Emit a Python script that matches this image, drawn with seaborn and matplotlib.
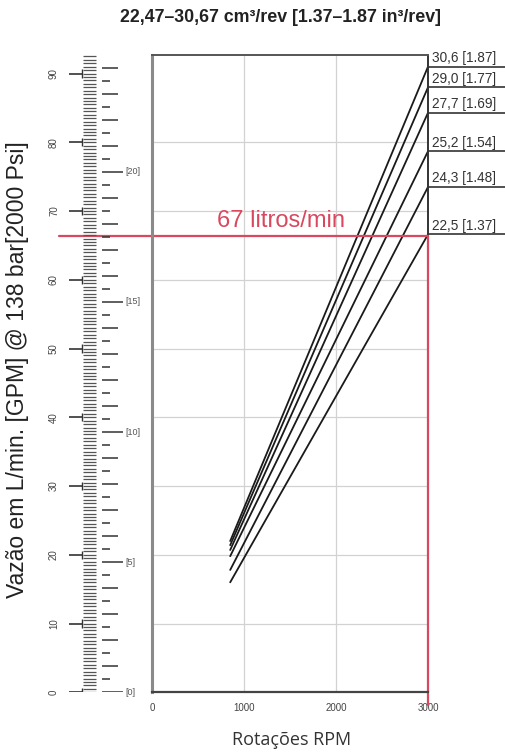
import matplotlib
matplotlib.use("Agg")
import matplotlib.pyplot as plt
import seaborn as sns
import numpy as np
import pandas as pd

# ==========================================
# dados
# ==========================================
deslocamentos = ["30,6 [1.87]", "29,0 [1.77]", "27,7 [1.69]",
                 "25,2 [1.54]", "24,3 [1.48]", "22,5 [1.37]"]
rpm_inicio = 850
rpm_fim = 3000
vazao_inicio = [22.0, 21.4, 20.7, 19.8, 17.8, 16.0]   # L/min em rpm_inicio
vazao_fim = [91.0, 88.0, 84.3, 78.7, 73.5, 66.6]      # L/min em 3000 rpm

vazao_ref = 66.4
texto_ref = "67 litros/min"

lpm_labels = [0, 10, 20, 30, 40, 50, 60, 70, 80, 90]
gpm_labels = [0, 5, 10, 15, 20]
x_ticks = [0, 1000, 2000, 3000]
grid_y = [10, 20, 30, 40, 50, 60, 70, 80]

titulo = "22,47–30,67 cm³/rev [1.37–1.87 in³/rev]"
ylabel = "Vazão em L/min. [GPM] @ 138 bar[2000 Psi]"
xlabel = "Rotações RPM"

LPM_POR_GPM = 3.785
Y_MAX = 92.7

sns.set_theme(style="white")
plt.rcParams['font.family'] = ['Liberation Sans', 'DejaVu Sans']

W, H = 506, 754
fig = plt.figure(figsize=(W / 100, H / 100), dpi=100)


def px_box(x0, y0, x1, y1):
    return [x0 / W, 1 - y1 / H, (x1 - x0) / W, (y1 - y0) / H]


def px2rpm(px):
    # converte pixel horizontal da figura em rpm do eixo principal
    return (px - 152) / (428 - 152) * 3000


ax = fig.add_axes(px_box(152, 55, 428, 692.3))
rax = fig.add_axes(px_box(40, 55, 152, 692.3))

# --- linhas de vazão ---
rows = []
for d, v0, v1 in zip(deslocamentos, vazao_inicio, vazao_fim):
    rows.append({"rpm": rpm_inicio, "vazao": v0, "desl": d})
    rows.append({"rpm": rpm_fim, "vazao": v1, "desl": d})
df = pd.DataFrame(rows)

sns.lineplot(data=df, x="rpm", y="vazao", units="desl", estimator=None,
             color="#1a1a1a", lw=1.3, ax=ax, legend=False)

ax.set_xlim(0, 3000)
ax.set_ylim(0, Y_MAX)
ax.set_xticks(x_ticks)
ax.set_xticklabels([str(t) for t in x_ticks], fontsize=7, color="#444")
ax.set_yticks(grid_y)
ax.tick_params(axis="y", length=0, labelleft=False)
ax.tick_params(axis="x", length=4, width=1, direction="inout", color="#555", pad=6)
ax.grid(True, color="#d2d2d2", lw=0.9)
ax.set_axisbelow(True)
ax.set_xlabel("")
ax.set_ylabel("")

ax.spines["left"].set_color("#8a8a8a")
ax.spines["left"].set_linewidth(2.2)
ax.spines["top"].set_color("#555")
ax.spines["top"].set_linewidth(1.4)
ax.spines["bottom"].set_color("#444")
ax.spines["bottom"].set_linewidth(1.6)
ax.spines["right"].set_visible(False)

# --- colchete da direita com rótulos de deslocamento ---
ax.plot([3000, 3000], [vazao_ref, Y_MAX], color="#333", lw=1.4, clip_on=False)
for lab, v in zip(deslocamentos, vazao_fim):
    ax.plot([3000, px2rpm(505)], [v, v], color="#333", lw=1.2, clip_on=False)
    ax.text(px2rpm(432), v + 0.25, lab, fontsize=9.8, color="#333",
            ha="left", va="bottom", clip_on=False)

# --- referência vermelha ---
vermelho = "#d8485f"
ax.plot([px2rpm(59), 3000], [vazao_ref, vazao_ref], color=vermelho, lw=1.6, clip_on=False)
ax.plot([3000, 3000], [-1.8, vazao_ref], color=vermelho, lw=1.6, clip_on=False)
ax.text(px2rpm(345), vazao_ref + 0.6, texto_ref, color=vermelho, fontsize=17,
        ha="right", va="bottom")

# --- régua da esquerda (L/min e GPM) ---
rax.set_xlim(40, 152)
rax.set_ylim(0, Y_MAX)
rax.axis("off")

rax.hlines(lpm_labels, 69, 82, color="#333", lw=1.2)
rax.vlines([82] * len(lpm_labels), np.array(lpm_labels) - 0.6,
           np.array(lpm_labels) + 0.6, color="#333", lw=1.0)
rax.hlines(np.arange(0, Y_MAX, 0.5), 83, 96, color="#555", lw=0.9)
for v in lpm_labels:
    rax.text(54, v, str(v), rotation=90, ha="center", va="center",
             fontsize=7, color="#444")

gpm = np.arange(0, Y_MAX / LPM_POR_GPM, 0.5)
for g in gpm:
    if g % 5 == 0:
        fim = 123
    elif g % 1 == 0:
        fim = 118
    else:
        fim = 110
    rax.hlines(g * LPM_POR_GPM, 102, fim, color="#333", lw=1.1)
for g in gpm_labels:
    rax.text(125, g * LPM_POR_GPM, f"[{g}]", ha="left", va="center",
             fontsize=6.5, color="#555")

# --- textos ---
fig.text(280 / W, 1 - 18 / H, titulo, ha="center", va="center",
         fontsize=12.8, fontweight="bold", color="#222")
fig.text(18 / W, 1 - 370 / H, ylabel, rotation=90, ha="center", va="center",
         fontsize=16.5, color="#222")
fig.text(292 / W, 1 - 740 / H, xlabel, ha="center", va="center",
         fontsize=13, color="#333", family=["Open Sans", "DejaVu Sans"])

plt.savefig("out.png", dpi=100)
plt.close()
